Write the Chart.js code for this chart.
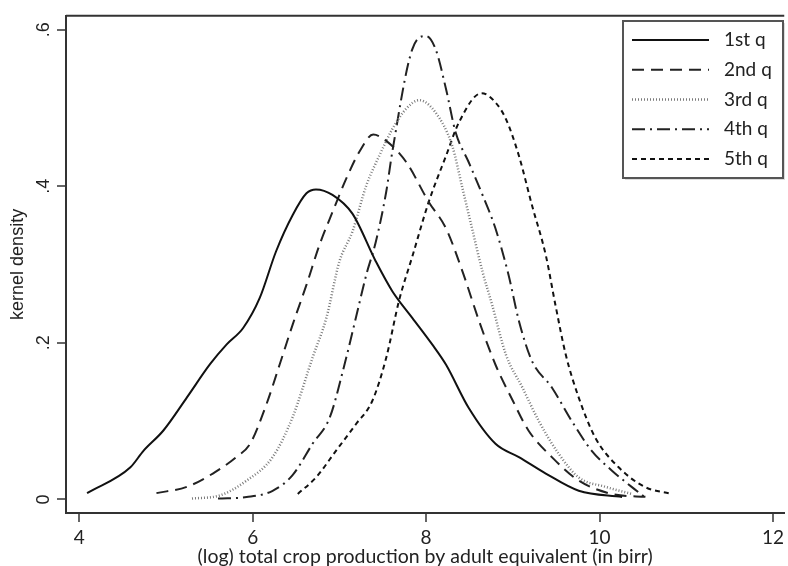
<!DOCTYPE html>
<html lang="en">
<head>
<meta charset="UTF-8">
<title>Kernel density by quintile</title>
<script src="https://cdn.jsdelivr.net/npm/chart.js"></script>
<style>
  body { margin: 0; background: #fff; }
  #wrap { width: 788px; height: 566px; }
</style>
</head>
<body>
<div id="wrap"><canvas id="kd" width="788" height="566"></canvas></div>
<script>
// values
const seriesNames = ['1st q', '2nd q', '3rd q', '4th q', '5th q'];

const q1X = [4.09, 4.59, 4.74, 4.97, 5.24, 5.51, 5.70, 5.89, 6.08, 6.27, 6.46, 6.62, 6.73, 6.92, 7.15, 7.42, 7.61, 7.84, 8.07, 8.23, 8.49, 8.80, 9.07, 9.38, 9.76, 10.26];
const q1Y = [0.008, 0.041, 0.062, 0.088, 0.130, 0.173, 0.198, 0.219, 0.257, 0.317, 0.363, 0.391, 0.396, 0.389, 0.365, 0.304, 0.266, 0.232, 0.198, 0.172, 0.117, 0.071, 0.054, 0.033, 0.011, 0.003];

const q2X = [4.89, 5.24, 5.54, 5.81, 5.97, 6.16, 6.31, 6.46, 6.62, 6.77, 6.92, 7.08, 7.23, 7.39, 7.54, 7.77, 8.03, 8.23, 8.42, 8.61, 8.80, 9.00, 9.18, 9.45, 9.76, 10.14, 10.56];
const q2Y = [0.008, 0.016, 0.033, 0.054, 0.071, 0.122, 0.172, 0.223, 0.274, 0.325, 0.367, 0.410, 0.444, 0.466, 0.458, 0.431, 0.380, 0.346, 0.291, 0.228, 0.172, 0.126, 0.088, 0.054, 0.024, 0.007, 0.003];

const q3X = [5.30, 5.62, 5.93, 6.23, 6.46, 6.69, 6.85, 7.00, 7.15, 7.31, 7.46, 7.61, 7.77, 7.92, 8.11, 8.30, 8.42, 8.53, 8.65, 8.76, 8.92, 9.11, 9.30, 9.53, 9.76, 10.07, 10.37];
const q3Y = [0.001, 0.005, 0.024, 0.054, 0.105, 0.181, 0.232, 0.304, 0.342, 0.401, 0.439, 0.473, 0.499, 0.510, 0.494, 0.452, 0.397, 0.346, 0.291, 0.249, 0.185, 0.143, 0.100, 0.058, 0.028, 0.016, 0.007];

const q4X = [5.60, 5.93, 6.23, 6.46, 6.69, 6.89, 7.04, 7.19, 7.31, 7.42, 7.54, 7.61, 7.84, 8.00, 8.11, 8.23, 8.34, 8.49, 8.65, 8.80, 8.95, 9.07, 9.22, 9.45, 9.68, 9.91, 10.14, 10.37, 10.52];
const q4Y = [0.001, 0.003, 0.011, 0.031, 0.071, 0.105, 0.164, 0.232, 0.287, 0.329, 0.393, 0.444, 0.575, 0.592, 0.575, 0.524, 0.469, 0.431, 0.389, 0.346, 0.287, 0.228, 0.177, 0.143, 0.100, 0.062, 0.037, 0.016, 0.003];

const q5X = [6.52, 6.73, 6.96, 7.19, 7.38, 7.54, 7.69, 7.84, 8.03, 8.23, 8.38, 8.64, 8.80, 8.92, 9.07, 9.22, 9.38, 9.49, 9.61, 9.76, 9.95, 10.22, 10.52, 10.83];
const q5Y = [0.007, 0.028, 0.062, 0.096, 0.126, 0.181, 0.255, 0.310, 0.380, 0.439, 0.482, 0.519, 0.507, 0.486, 0.439, 0.376, 0.312, 0.249, 0.185, 0.130, 0.079, 0.041, 0.016, 0.007];

const xTicks = [4, 6, 8, 10, 12];
const yTicks = [0, 0.2, 0.4, 0.6];
const yTickLabels = ['0', '.2', '.4', '.6'];

const lineStyles = [
    { color: '#111', dash: [], width: 2 },
    { color: '#222', dash: [12, 7], width: 2 },
    { color: '#7a7a7a', dash: [1, 2], width: 2.5 },
    { color: '#222', dash: [13, 5, 2, 5], width: 2 },
    { color: '#111', dash: [5, 4], width: 2 }
];

function pts(xs, ys) {
    return xs.map((x, i) => ({ x: x, y: ys[i] }));
}

const allX = [q1X, q2X, q3X, q4X, q5X];
const allY = [q1Y, q2Y, q3Y, q4Y, q5Y];

const datasets = seriesNames.map((name, i) => ({
    label: name,
    data: pts(allX[i], allY[i]),
    borderColor: lineStyles[i].color,
    borderDash: lineStyles[i].dash,
    borderWidth: lineStyles[i].width,
    pointRadius: 0,
    fill: false,
    cubicInterpolationMode: 'monotone'
}));

// top edge of the plot frame
const frameTop = {
    id: 'frameTop',
    afterDraw(chart) {
        const a = chart.chartArea, ctx = chart.ctx;
        ctx.save();
        ctx.strokeStyle = '#333';
        ctx.lineWidth = 2;
        ctx.beginPath();
        ctx.moveTo(a.left, a.top);
        ctx.lineTo(a.right, a.top);
        ctx.stroke();
        ctx.restore();
    }
};

// boxed legend inside the plot, top right
const boxLegend = {
    id: 'boxLegend',
    afterDraw(chart) {
        const ctx = chart.ctx;
        const x = 623, y = 21, w = 160, h = 157;
        ctx.save();
        ctx.fillStyle = '#dcdcdc';
        ctx.fillRect(x + 2, y + 2, w, h);
        ctx.fillStyle = '#fff';
        ctx.fillRect(x, y, w, h);
        ctx.strokeStyle = '#555';
        ctx.lineWidth = 2;
        ctx.strokeRect(x, y, w, h);
        chart.data.datasets.forEach((ds, i) => {
            const ly = y + 19 + i * 29.75;
            ctx.beginPath();
            ctx.setLineDash(ds.borderDash || []);
            ctx.strokeStyle = ds.borderColor;
            ctx.lineWidth = ds.borderWidth;
            ctx.moveTo(x + 9, ly);
            ctx.lineTo(x + 86, ly);
            ctx.stroke();
            ctx.setLineDash([]);
            ctx.fillStyle = '#222';
            ctx.font = '19px Lato';
            ctx.textBaseline = 'middle';
            ctx.fillText(ds.label, x + 101, ly);
        });
        ctx.restore();
    }
};

new Chart(document.getElementById('kd'), {
    type: 'line',
    data: { datasets: datasets },
    options: {
        responsive: false,
        animation: false,
        layout: { padding: { left: 0, top: 14, right: 0, bottom: 0 } },
        plugins: { legend: { display: false }, tooltip: { enabled: false } },
        scales: {
            x: {
                type: 'linear',
                min: 3.847,
                max: 12.13,
                afterBuildTicks: s => { s.ticks = xTicks.map(v => ({ value: v })); },
                afterFit: s => { s.height = 53; },
                grid: { drawOnChartArea: false, tickLength: 9, color: '#666', lineWidth: 2 },
                border: { color: '#333', width: 2 },
                ticks: { font: { family: 'Lato', size: 19 }, color: '#222', padding: 4 },
                title: {
                    display: true,
                    text: '(log) total crop production by adult equivalent (in birr)',
                    font: { family: 'Lato', size: 19.5, lineHeight: 1 },
                    color: '#222',
                    padding: { top: 0, bottom: 0 }
                }
            },
            y: {
                type: 'linear',
                min: -0.0174,
                max: 0.6178,
                afterBuildTicks: s => { s.ticks = yTicks.map(v => ({ value: v })); },
                afterFit: s => { s.width = 66; },
                grid: { drawOnChartArea: false, tickLength: 9, color: '#666', lineWidth: 2 },
                border: { color: '#333', width: 2 },
                ticks: {
                    minRotation: 90,
                    maxRotation: 90,
                    crossAlign: 'center',
                    padding: 5,
                    font: { family: 'Liberation Sans', size: 18 },
                    color: '#222',
                    callback: v => yTickLabels[yTicks.indexOf(v)]
                },
                title: {
                    display: true,
                    text: 'kernel density',
                    font: { family: 'Liberation Sans', size: 18 },
                    color: '#222',
                    padding: { top: 7, bottom: 0 }
                }
            }
        }
    },
    plugins: [frameTop, boxLegend]
});
</script>
</body>
</html>
